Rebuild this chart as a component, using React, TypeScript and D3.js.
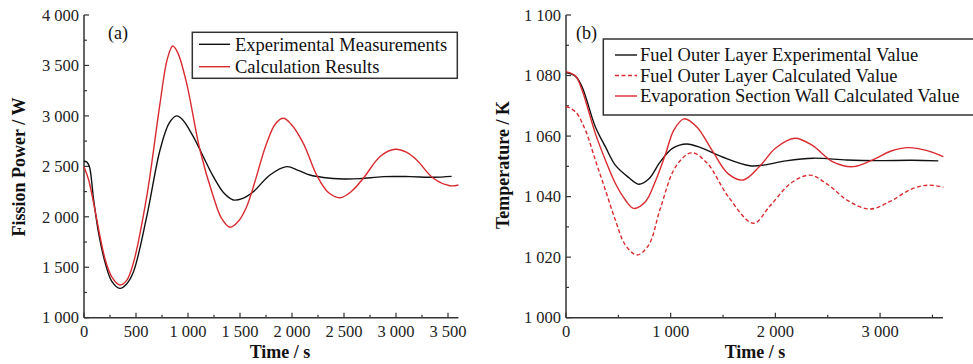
import React from "react";
import * as d3 from "d3";

if (typeof document !== "undefined") document.body.style.margin = "0";

// ---------- data (a) ----------
const powerExp: [number, number][] = [
  [0, 2550], [25, 2545], [51, 2500], [93, 2166], [141, 1836], [205, 1539], [269, 1357],
  [345, 1291], [410, 1335], [474, 1450], [603, 2001], [731, 2662], [820, 2930],
  [891, 3000], [950, 2960], [1051, 2794], [1244, 2398], [1350, 2230], [1436, 2167],
  [1520, 2180], [1628, 2249], [1788, 2414], [1949, 2497], [2060, 2460], [2173, 2414],
  [2300, 2390], [2494, 2375], [2654, 2378], [2878, 2398], [3135, 2398], [3359, 2392],
  [3535, 2401],
];
const powerCalc: [number, number][] = [
  [0, 2497], [45, 2365], [93, 2134], [205, 1572], [270, 1400], [345, 1324], [410, 1370],
  [474, 1539], [603, 2199], [731, 3125], [800, 3560], [853, 3693], [900, 3630],
  [987, 3323], [1115, 2662], [1244, 2199], [1320, 1990], [1404, 1896], [1480, 1950],
  [1564, 2100], [1756, 2728], [1840, 2920], [1917, 2976], [1990, 2920], [2109, 2728],
  [2237, 2414], [2350, 2240], [2462, 2189], [2570, 2250], [2686, 2382], [2850, 2600],
  [2990, 2669], [3100, 2640], [3199, 2563], [3359, 2382], [3519, 2308], [3600, 2315],
];

// ---------- data (b) ----------
const tempExp: [number, number][] = [
  [0, 1081.0], [89, 1079.8], [153, 1076.3], [280, 1063.1], [376, 1056.5], [471, 1050.4],
  [599, 1046.3], [694, 1044.1], [790, 1045.8], [900, 1051.5], [1020, 1056], [1153, 1057.4],
  [1300, 1056], [1500, 1053], [1757, 1050.2], [1900, 1050.5], [2100, 1051.8],
  [2362, 1052.7], [2681, 1052.1], [3000, 1051.9], [3300, 1052], [3556, 1051.8],
];
const tempCalc: [number, number][] = [
  [0, 1069.8], [89, 1068.1], [185, 1062], [280, 1052.1], [376, 1042.2], [471, 1032.3],
  [567, 1024], [678, 1020.7], [790, 1024], [900, 1036], [1050, 1050], [1200, 1054.5],
  [1350, 1051], [1550, 1040], [1790, 1031.2], [1950, 1037], [2150, 1044.5], [2331, 1047.1],
  [2500, 1044], [2700, 1038.5], [2904, 1035.9], [3100, 1038.5], [3300, 1042.5],
  [3461, 1043.8], [3604, 1043.1],
];
const wallCalc: [number, number][] = [
  [0, 1081.3], [89, 1079.9], [153, 1075.2], [280, 1060.9], [376, 1052.1], [471, 1044.4],
  [567, 1038.9], [646, 1036.1], [758, 1038.3], [853, 1045], [950, 1054], [1030, 1062],
  [1127, 1065.7], [1250, 1063], [1400, 1055], [1550, 1047.5], [1694, 1045.5], [1850, 1050],
  [2000, 1056], [2187, 1059.3], [2350, 1057], [2550, 1051.5], [2744, 1049.9],
  [2950, 1052.5], [3100, 1055], [3270, 1056.2], [3450, 1055.2], [3604, 1053.2],
];

const xTicksA = [0, 500, 1000, 1500, 2000, 2500, 3000, 3500];
const yTicksA = [1000, 1500, 2000, 2500, 3000, 3500, 4000];
const xTicksB = [0, 1000, 2000, 3000];
const yTicksB = [1000, 1020, 1040, 1060, 1080, 1100];

const legendA = ["Experimental Measurements", "Calculation Results"];
const legendB = [
  "Fuel Outer Layer Experimental Value",
  "Fuel Outer Layer Calculated Value",
  "Evaporation Section Wall Calculated Value",
];

const RED = "#d92a2f";
const BLACK = "#111";
const AXIS = "#333";
const FONT = "'Liberation Serif', 'Times New Roman', serif";

const fmt = (n: number) =>
  n >= 1000 ? `${Math.floor(n / 1000)} ${String(n % 1000).padStart(3, "0")}` : String(n);

function Panel(props: {
  x: d3.ScaleLinear<number, number>;
  y: d3.ScaleLinear<number, number>;
  xTicks: number[];
  xMinor: number[];
  yTicks: number[];
  yMinor: number[];
  yTitle: string;
  yTitleX: number;
  yTitleY: number;
  xTitleX: number;
}) {
  const { x, y } = props;
  const [x0, x1] = x.range();
  const [y0, y1] = y.range();
  return (
    <g fontFamily={FONT}>
      <line x1={x0} x2={x0} y1={y0} y2={y1} stroke={AXIS} strokeWidth={1.5} />
      <line x1={x0} x2={x1} y1={y0} y2={y0} stroke={AXIS} strokeWidth={1.5} />
      {props.xMinor.map((t) => (
        <line key={"xm" + t} x1={x(t)} x2={x(t)} y1={y0} y2={y0 - 3} stroke={AXIS} strokeWidth={1.2} />
      ))}
      {props.xTicks.map((t) => (
        <g key={"x" + t}>
          <line x1={x(t)} x2={x(t)} y1={y0} y2={y0 - 5} stroke={AXIS} strokeWidth={1.2} />
          <text x={x(t)} y={y0 + 19} textAnchor="middle" fontSize={16.5} fill="#222" style={{ whiteSpace: "pre" }}>
            {fmt(t)}
          </text>
        </g>
      ))}
      {props.yMinor.map((t) => (
        <line key={"ym" + t} x1={x0} x2={x0 + 3} y1={y(t)} y2={y(t)} stroke={AXIS} strokeWidth={1.2} />
      ))}
      {props.yTicks.map((t) => (
        <g key={"y" + t}>
          <line x1={x0} x2={x0 + 5} y1={y(t)} y2={y(t)} stroke={AXIS} strokeWidth={1.2} />
          <text x={x0 - 5} y={y(t) + 5.7} textAnchor="end" fontSize={16.5} fill="#222" style={{ whiteSpace: "pre" }}>
            {fmt(t)}
          </text>
        </g>
      ))}
      <text
        transform={`translate(${props.yTitleX},${props.yTitleY}) rotate(-90)`}
        textAnchor="middle"
        dominantBaseline="central"
        fontSize={18}
        fontWeight="bold"
        fill="#111"
      >
        {props.yTitle}
      </text>
      <text x={props.xTitleX} y={357.5} textAnchor="middle" fontSize={18} fontWeight="bold" fill="#111">
        Time / s
      </text>
    </g>
  );
}

export default function App() {
  const xA = d3.scaleLinear().domain([0, 3600]).range([84, 458.4]);
  const yA = d3.scaleLinear().domain([1000, 4000]).range([317.7, 15]);
  const xB = d3.scaleLinear().domain([0, 3600]).range([566, 942.9]);
  const yB = d3.scaleLinear().domain([1000, 1100]).range([317.7, 15]);

  const curve = d3.curveCatmullRom.alpha(0.5);
  const lineA = d3
    .line<[number, number]>()
    .x((d) => xA(d[0]))
    .y((d) => yA(d[1]))
    .curve(curve);
  const lineB = d3
    .line<[number, number]>()
    .x((d) => xB(d[0]))
    .y((d) => yB(d[1]))
    .curve(curve);

  const xMinorA = d3.range(250, 3600, 500);
  const yMinorA = d3.range(1250, 4000, 500);
  const xMinorB = d3.range(500, 3600, 1000);
  const yMinorB = d3.range(1010, 1100, 20);

  return (
    <svg width={973} height={364} style={{ display: "block", background: "#fff" }}>
      <Panel
        x={xA}
        y={yA}
        xTicks={xTicksA}
        xMinor={xMinorA}
        yTicks={yTicksA}
        yMinor={yMinorA}
        yTitle="Fission Power / W"
        yTitleX={18.5}
        yTitleY={167}
        xTitleX={280}
      />
      <Panel
        x={xB}
        y={yB}
        xTicks={xTicksB}
        xMinor={xMinorB}
        yTicks={yTicksB}
        yMinor={yMinorB}
        yTitle="Temperature / K"
        yTitleX={503}
        yTitleY={165}
        xTitleX={755}
      />

      {/* curves (a) */}
      <path d={lineA(powerExp) ?? ""} fill="none" stroke={BLACK} strokeWidth={1.4} />
      <path d={lineA(powerCalc) ?? ""} fill="none" stroke={RED} strokeWidth={1.4} />

      {/* curves (b) */}
      <path d={lineB(tempCalc) ?? ""} fill="none" stroke={RED} strokeWidth={1.4} strokeDasharray="4,2.5" />
      <path d={lineB(tempExp) ?? ""} fill="none" stroke={BLACK} strokeWidth={1.4} />
      <path d={lineB(wallCalc) ?? ""} fill="none" stroke={RED} strokeWidth={1.4} />

      <g fontFamily={FONT} fill="#111">
        <text x={108} y={38.5} fontSize={18}>(a)</text>
        <text x={576} y={38.5} fontSize={18}>(b)</text>

        {/* legend (a) */}
        <rect x={192.3} y={32.3} width={265} height={46} fill="#fff" stroke={AXIS} strokeWidth={1.5} />
        {legendA.map((t, i) => {
          const ly = 44.3 + i * 22.4;
          return (
            <g key={t}>
              <line x1={199} x2={230} y1={ly} y2={ly} stroke={i === 0 ? BLACK : RED} strokeWidth={1.4} />
              <text x={235} y={ly + 6.4} fontSize={18.5}>{t}</text>
            </g>
          );
        })}

        {/* legend (b) */}
        <rect x={603.3} y={39} width={380} height={76} fill="#fff" stroke={AXIS} strokeWidth={1.5} />
        {legendB.map((t, i) => {
          const ly = 55 + i * 20.5;
          return (
            <g key={t}>
              <line
                x1={615}
                x2={637}
                y1={ly}
                y2={ly}
                stroke={i === 0 ? BLACK : RED}
                strokeWidth={1.4}
                strokeDasharray={i === 1 ? "4,2.5" : undefined}
              />
              <text x={640} y={ly + 6.4} fontSize={18.5}>{t}</text>
            </g>
          );
        })}
      </g>
    </svg>
  );
}
